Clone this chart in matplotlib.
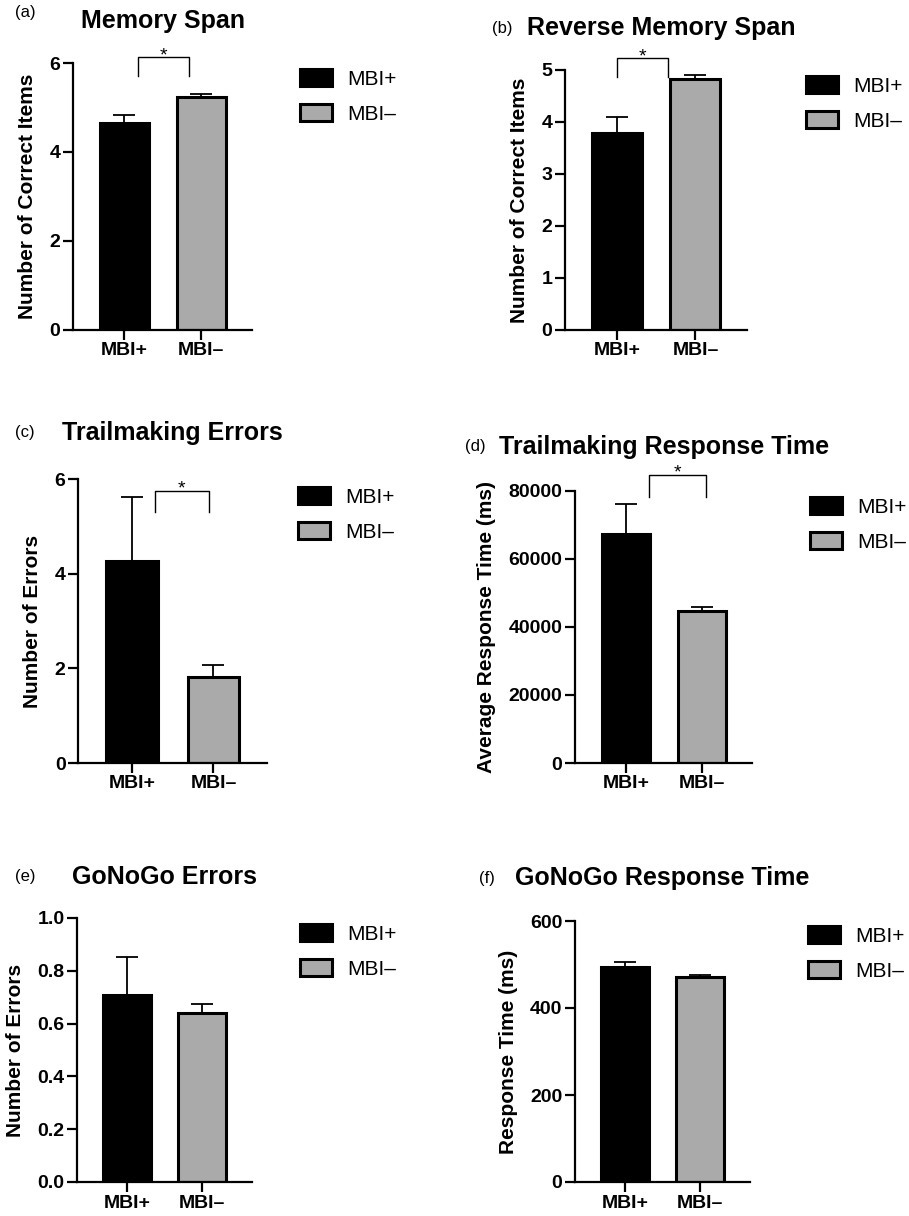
import numpy as np
import matplotlib
matplotlib.use('Agg')
import matplotlib.pyplot as plt
from matplotlib.patches import Patch

plt.rcParams['font.family'] = ['Liberation Sans', 'DejaVu Sans']

groups = ['MBI+', 'MBI–']
mem_span = [4.66, 5.24]
mem_span_sem = [0.17, 0.06]
rev_span = [3.79, 4.83]
rev_span_sem = [0.31, 0.07]
trail_err = [4.27, 1.82]
trail_err_sem = [1.35, 0.24]
trail_rt = [67500, 44800]
trail_rt_sem = [8800, 1200]
gng_err = [0.709, 0.639]
gng_err_sem = [0.142, 0.036]
gng_rt = [494, 471]
gng_rt_sem = [12, 6]

W, H = 909, 1216
fig = plt.figure(figsize=(W / 100, H / 100), dpi=100)
grey = '#aaaaaa'

def fx(x):
    return x / W

def fy(y):
    return 1 - y / H

panels = [
    # label, title, ylabel, means, sems, yticks, fmt, axes px box, title px, label px, legend px, bracket
    ('(a)', 'Memory Span', 'Number of Correct Items', mem_span, mem_span_sem,
     [0, 2, 4, 6], '%d', (73, 63, 252, 330), (163, 21), (25, 12), (300, 69),
     (0.18, 0.84, 6.13, 5.71)),
    ('(b)', 'Reverse Memory Span', 'Number of Correct Items', rev_span, rev_span_sem,
     [0, 1, 2, 3, 4, 5], '%d', (565, 70, 747, 330), (661, 28), (502, 28), (806, 76),
     (0.0, 0.65, 5.23, 4.87)),
    ('(c)', 'Trailmaking Errors', 'Number of Errors', trail_err, trail_err_sem,
     [0, 2, 4, 6], '%d', (78, 479, 267, 763), (172, 433), (25, 433), (298, 487),
     (0.28, 0.94, 5.75, 5.30)),
    ('(d)', 'Trailmaking Response Time', 'Average Response Time (ms)', trail_rt, trail_rt_sem,
     [0, 20000, 40000, 60000, 80000], '%d', (575, 491, 752, 763), (664, 447), (475, 447), (810, 497),
     (0.31, 1.05, 84700, 78200)),
    ('(e)', 'GoNoGo Errors', 'Number of Errors', gng_err, gng_err_sem,
     [0.0, 0.2, 0.4, 0.6, 0.8, 1.0], '%.1f', (77, 918, 252, 1182), (165, 877), (25, 877), (300, 924),
     None),
    ('(f)', 'GoNoGo Response Time', 'Response Time (ms)', gng_rt, gng_rt_sem,
     [0, 200, 400, 600], '%d', (575, 921, 750, 1182), (662, 878), (487, 878), (808, 926),
     None),
]

x = np.arange(len(groups))

for lab, title, ylab, means, sems, yt, fmt, box, tpos, lpos, legpos, br in panels:
    l, t, r, b = box
    ax = fig.add_axes([fx(l), fy(b), fx(r) - fx(l), fy(t) - fy(b)])
    ax.bar(x, means, width=0.64, color=['black', grey], edgecolor='black',
           linewidth=2.2, zorder=2)
    ax.errorbar(x, means, yerr=[np.zeros(len(means)), sems], fmt='none',
                ecolor='black', elinewidth=1.3, capsize=8, capthick=1.3, zorder=1)
    ax.set_xlim(-0.67, 1.66)
    ax.set_ylim(yt[0], yt[-1])
    ax.set_yticks(yt)
    ax.set_yticklabels([fmt % v for v in yt], fontsize=14, fontweight='bold')
    ax.set_xticks(x)
    ax.set_xticklabels(groups, fontsize=14, fontweight='bold')
    for s in ['top', 'right']:
        ax.spines[s].set_visible(False)
    for s in ['left', 'bottom']:
        ax.spines[s].set_linewidth(1.6)
    ax.tick_params(axis='both', length=7, width=1.6, pad=2)
    ax.set_ylabel(ylab, fontsize=15, fontweight='bold', labelpad=9)

    fig.text(fx(tpos[0]), fy(tpos[1]), title, fontsize=18, fontweight='bold',
             ha='center', va='center')
    fig.text(fx(lpos[0]), fy(lpos[1]), lab, fontsize=12, ha='center', va='center')

    handles = [Patch(facecolor='black', edgecolor='black', linewidth=2.2),
               Patch(facecolor=grey, edgecolor='black', linewidth=2.2)]
    ax.legend(handles, groups, loc='upper left', bbox_to_anchor=(fx(legpos[0]), fy(legpos[1])),
              bbox_transform=fig.transFigure, frameon=False, borderpad=0, borderaxespad=0,
              handlelength=1.55, handleheight=0.87, handletextpad=0.7, labelspacing=0.75,
              fontsize=15)

    if br is not None:
        x0, x1, ytop, ylow = br
        ax.plot([x0, x0, x1, x1], [ylow, ytop, ytop, ylow], color='black', lw=1.0,
                clip_on=False)
        ax.annotate('*', xy=((x0 + x1) / 2, ytop), xytext=(0, -5), textcoords='offset points',
                    ha='center', va='bottom', fontsize=14, annotation_clip=False)

fig.savefig('out.png', dpi=100)
